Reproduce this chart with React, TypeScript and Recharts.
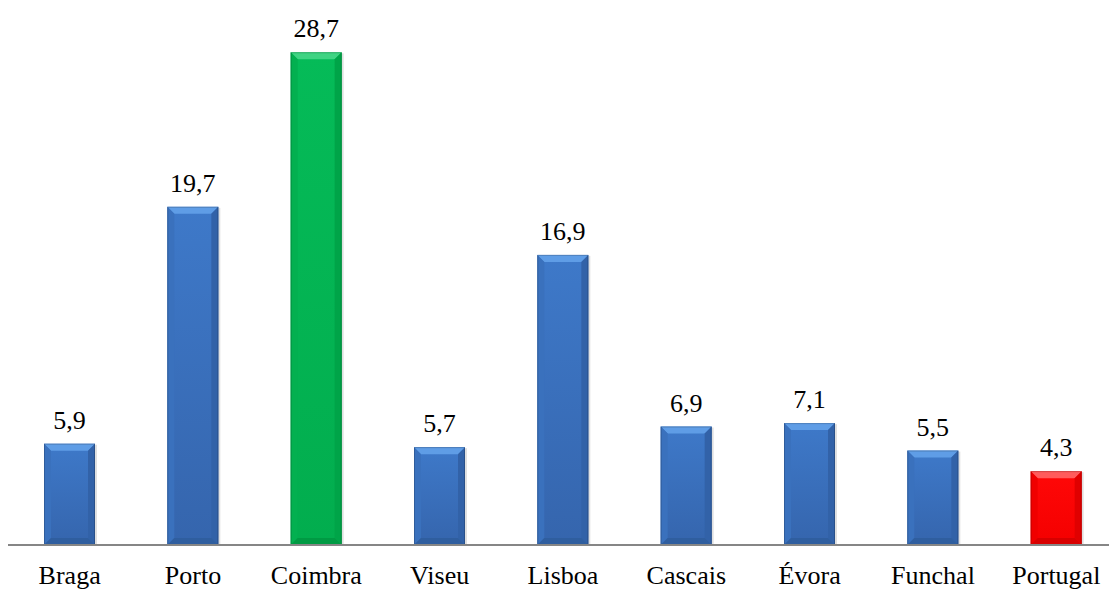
import React from 'react';
import { BarChart, Bar, XAxis, YAxis, LabelList, Cell } from 'recharts';

// Categories and values for the bar chart
const cities = ['Braga', 'Porto', 'Coimbra', 'Viseu', 'Lisboa', 'Cascais', 'Évora', 'Funchal', 'Portugal'];
const values = [5.9, 19.7, 28.7, 5.7, 16.9, 6.9, 7.1, 5.5, 4.3];

// Colour scheme per highlighted city (everything else is blue)
type Palette = { body: string; bodyDark: string; top: string; left: string; right: string; bottom: string };

const BLUE: Palette = {
  body: '#3e79c9',
  bodyDark: '#3565ad',
  top: '#5f9de6',
  left: '#3a71bd',
  right: '#3262a8',
  bottom: '#2f5e9f',
};
const GREEN: Palette = {
  body: '#05bb58',
  bodyDark: '#02ad4e',
  top: '#3fd483',
  left: '#03b050',
  right: '#00a448',
  bottom: '#009a43',
};
const RED: Palette = {
  body: '#ff0808',
  bodyDark: '#f40000',
  top: '#ff5c5c',
  left: '#f00000',
  right: '#e00000',
  bottom: '#d80000',
};

const highlight: Record<string, Palette> = { Coimbra: GREEN, Portugal: RED };

const chartData = cities.map((city, i) => ({ city, value: values[i] }));

const SERIF = 'Liberation Serif';
const FONT_SIZE = 26;

// Bevelled bar: flat body plus four trapezoid facets around the edge
const BevelBar = (props: any) => {
  const { x, y, width, height, index } = props;
  if (height <= 0) return null;
  const pal = highlight[cities[index]] || BLUE;
  const b = Math.min(7, height / 2);
  const id = `grad-${index}`;
  return (
    <g>
      <defs>
        <linearGradient id={id} x1="0" y1="0" x2="0" y2="1">
          <stop offset="0%" stopColor={pal.body} />
          <stop offset="100%" stopColor={pal.bodyDark} />
        </linearGradient>
      </defs>
      <rect x={x + 2} y={y + 1} width={width} height={height} fill="rgba(0,0,0,0.12)" />
      <rect x={x} y={y} width={width} height={height} fill={`url(#${id})`} />
      <polygon
        points={`${x},${y} ${x + width},${y} ${x + width - b},${y + b} ${x + b},${y + b}`}
        fill={pal.top}
      />
      <polygon
        points={`${x},${y} ${x + b},${y + b} ${x + b},${y + height - b} ${x},${y + height}`}
        fill={pal.left}
      />
      <polygon
        points={`${x + width},${y} ${x + width - b},${y + b} ${x + width - b},${y + height - b} ${x + width},${y + height}`}
        fill={pal.right}
      />
      <polygon
        points={`${x},${y + height} ${x + b},${y + height - b} ${x + width - b},${y + height - b} ${x + width},${y + height}`}
        fill={pal.bottom}
      />
      <rect x={x + 0.5} y={y + 0.5} width={width - 1} height={height - 1} fill="none" stroke="rgba(0,0,0,0.18)" />
    </g>
  );
};

const CityTick = (props: any) => {
  const { x, y, payload } = props;
  return (
    <text x={x} y={y + 31} textAnchor="middle" fill="#000" fontFamily={SERIF} fontSize={FONT_SIZE}>
      {payload.value}
    </text>
  );
};

const ValueLabel = (props: any) => {
  const { x, y, width, value } = props;
  return (
    <text x={x + width / 2} y={y - 15} textAnchor="middle" fill="#000" fontFamily={SERIF} fontSize={FONT_SIZE}>
      {String(value).replace('.', ',')}
    </text>
  );
};

export default function App() {
  return (
    <div style={{ position: 'absolute', left: 0, top: 0, width: 1109, height: 592, overflow: 'hidden' }}>
      <BarChart
        width={1118}
        height={592}
        data={chartData}
        margin={{ top: 30, right: 0, bottom: 0, left: 8 }}
        barSize={51}
      >
        <XAxis
          dataKey="city"
          height={47}
          axisLine={{ stroke: '#868686', strokeWidth: 2 }}
          tickLine={false}
          tick={<CityTick />}
          interval={0}
        />
        <YAxis hide domain={[0, 30]} />
        <Bar dataKey="value" shape={<BevelBar />} isAnimationActive={false}>
          {chartData.map((d) => (
            <Cell key={d.city} />
          ))}
          <LabelList dataKey="value" content={<ValueLabel />} />
        </Bar>
      </BarChart>
    </div>
  );
}
